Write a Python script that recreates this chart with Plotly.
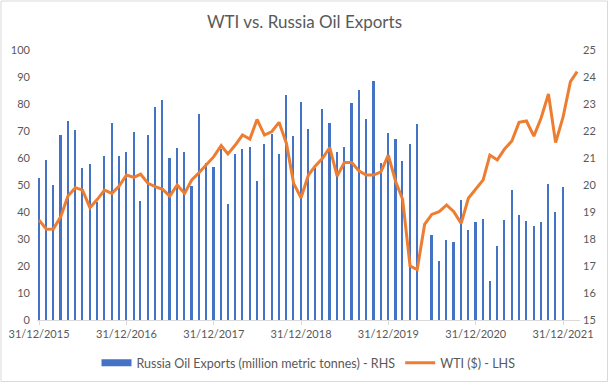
import pandas as pd
import plotly.graph_objects as go

# Month-end dates, Dec 2015 .. Feb 2022
months = pd.date_range("2015-12-31", periods=75, freq=pd.offsets.MonthEnd())

# WTI ($), left axis
wti = [37.0, 33.6, 33.7, 38.3, 45.9, 49.0, 48.1, 41.6, 44.7, 48.1, 46.9, 49.6,
       53.7, 52.8, 54.0, 50.6, 49.4, 48.4, 45.9, 50.0, 46.9, 51.9, 54.6, 57.4,
       60.5, 64.6, 61.5, 64.8, 68.5, 67.0, 74.3, 68.5, 69.8, 73.2, 65.4, 50.6,
       45.3, 53.7, 57.0, 59.9, 63.9, 53.3, 58.3, 58.3, 55.2, 53.7, 53.7, 54.9,
       61.1, 51.2, 44.7, 20.0, 18.7, 35.4, 39.1, 40.1, 42.6, 40.1, 35.8, 45.1,
       48.4, 51.9, 61.1, 59.3, 63.3, 66.3, 73.2, 73.7, 68.1, 74.7, 83.7, 65.7,
       75.1, 88.3, 92.0]

# Russia oil exports (million metric tonnes), right axis
exports = [20.25, 20.91, 19.99, 21.84, 22.38, 22.05, 20.63, 20.77, 19.36, 21.07, 22.31, 21.07,
           21.21, 21.95, 19.41, 21.84, 22.90, 23.14, 21.00, 21.38, 21.21, 19.96, 22.62, 20.83,
           20.68, 21.33, 19.30, 21.15, 21.35, 21.39, 20.16, 21.53, 21.90, 21.14, 23.33, 21.81,
           23.06, 22.07, 20.64, 22.80, 22.28, 21.23, 21.42, 23.02, 23.52, 22.46, 23.85, 20.83,
           21.93, 21.69, 20.88, 21.51, 22.26, None, 18.16, 17.20, 17.95, 17.89, 19.44, 18.32,
           18.62, 18.73, 16.46, 17.73, 18.70, 19.80, 18.89, 18.68, 18.47, 18.62, 20.02, 19.01,
           19.91, None, None]

year_ticks = ["2015-12-31", "2016-12-31", "2017-12-31", "2018-12-31",
              "2019-12-31", "2020-12-31", "2021-12-31"]
year_labels = ["31/12/2015", "31/12/2016", "31/12/2017", "31/12/2018",
               "31/12/2019", "31/12/2020", "31/12/2021"]

BLUE = "#4472C4"
ORANGE = "#ED7D31"
TXT = "#595959"
FONT = "Lato"

fig = go.Figure()
fig.add_trace(go.Bar(x=months, y=exports, yaxis="y", marker=dict(color=BLUE, line=dict(width=0)),
                     width=7 * 86400000, showlegend=False,
                     name="Russia Oil Exports (million metric tonnes) - RHS"))
fig.add_trace(go.Scatter(x=[None], y=[None], mode="lines", yaxis="y",
                         line=dict(color=BLUE, width=7),
                         name="Russia Oil Exports (million metric tonnes) - RHS"))
fig.add_trace(go.Scatter(x=months, y=wti, mode="lines", yaxis="y2",
                         line=dict(color=ORANGE, width=3), name="WTI ($) - LHS"))

fig.update_layout(
    width=609, height=383,
    margin=dict(l=37, r=29, t=50, b=63, autoexpand=False),
    paper_bgcolor="white", plot_bgcolor="white",
    font=dict(family=FONT, size=11, color=TXT),
    title=dict(text="WTI vs. Russia Oil Exports", x=0.5, xanchor="center",
               y=1 - 22 / 383, yanchor="middle", yref="container",
               font=dict(family=FONT, size=17, color=TXT)),
    bargap=0,
    xaxis=dict(type="date", range=["2015-12-22 12:00", "2022-03-12"],
               tickvals=year_ticks, ticktext=year_labels, automargin=False,
               showline=True, linecolor="#d9d9d9", linewidth=1,
               ticks="outside", ticklen=4, tickcolor="#d9d9d9",
               showgrid=False, zeroline=False,
               tickfont=dict(family=FONT, size=11, color=TXT)),
    yaxis=dict(range=[15, 25], dtick=1, side="right", showgrid=False, zeroline=False,
               showline=False, ticks="", ticklabelstandoff=2, automargin=False,
               tickfont=dict(family=FONT, size=11, color=TXT)),
    yaxis2=dict(range=[0, 100], dtick=10, side="left", overlaying="y", showgrid=False,
                zeroline=False, showline=False, ticks="", ticklabelstandoff=6,
                automargin=False,
                tickfont=dict(family=FONT, size=11, color=TXT)),
    legend=dict(orientation="h", x=0.5, xanchor="center", y=(320 - 363) / 270,
                yanchor="middle", font=dict(family=FONT, size=12.5, color=TXT),
                bgcolor="rgba(0,0,0,0)"),
    shapes=[dict(type="rect", xref="paper", yref="paper",
                 x0=(1 - 37) / 543, x1=(607.5 - 37) / 543,
                 y0=(320 - 381.5) / 270, y1=(320 - 1) / 270,
                 line=dict(color="#d9d9d9", width=1), fillcolor="rgba(0,0,0,0)",
                 layer="below")],
)

fig.write_html("out.html", config={"displayModeBar": False},
               post_script="document.body.style.margin='0';document.body.style.overflow='hidden';")
